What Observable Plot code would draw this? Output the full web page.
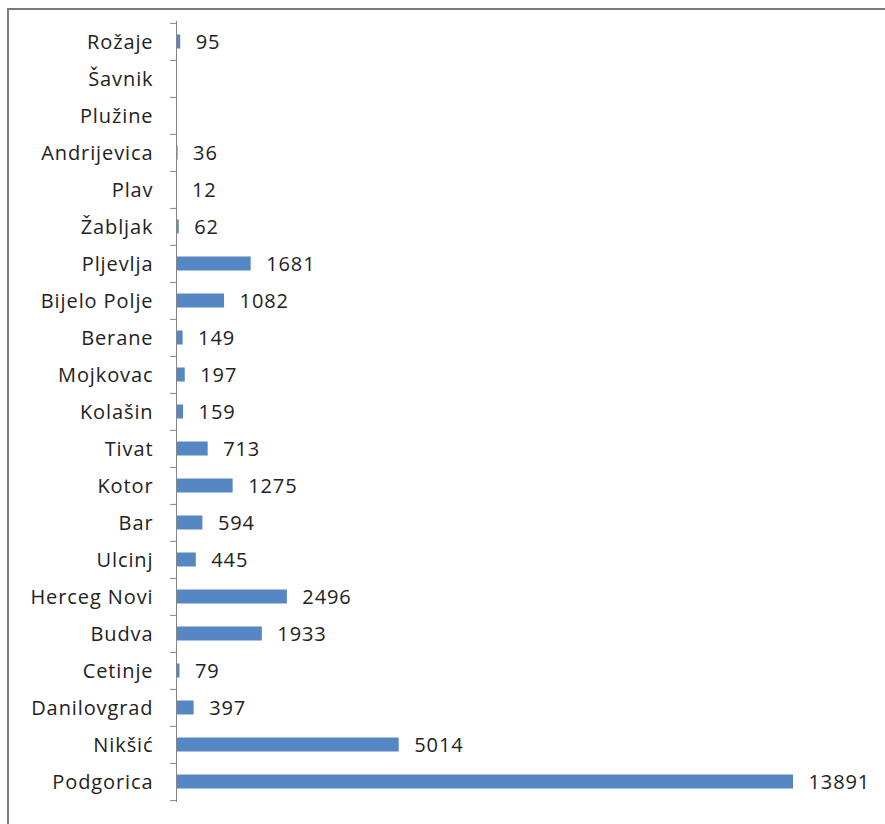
<!DOCTYPE html>
<html>
<head>
<meta charset="utf-8">
<script src="https://cdn.jsdelivr.net/npm/d3@7"></script>
<script src="https://cdn.jsdelivr.net/npm/@observablehq/plot@0.6"></script>
<style>
  body { margin: 0; background: #fff; }
  #wrap { position: relative; width: 885px; height: 824px; overflow: hidden; }
  #frame { position: absolute; left: 7px; top: 8px; width: 900px; height: 900px;
           border-left: 2px solid #7a7a7a; border-top: 2px solid #7a7a7a; box-sizing: border-box; }
  #chart { position: absolute; left: 0; top: 0; }
  #chart svg text { letter-spacing: 0.9px; }
</style>
</head>
<body>
<div id="wrap"><div id="frame"></div><div id="chart"></div></div>
<script>
const municipalities = ["Rožaje","Šavnik","Plužine","Andrijevica","Plav","Žabljak","Pljevlja","Bijelo Polje","Berane","Mojkovac","Kolašin","Tivat","Kotor","Bar","Ulcinj","Herceg Novi","Budva","Cetinje","Danilovgrad","Nikšić","Podgorica"];
const values = [95, null, null, 36, 12, 62, 1681, 1082, 149, 197, 159, 713, 1275, 594, 445, 2496, 1933, 79, 397, 5014, 13891];

const data = municipalities.map((name, i) => ({name, value: values[i]}));
const shown = data.filter(d => d.value != null);

const W = 885, H = 824, mTop = 21, mBottom = 22;
const step = (H - mTop - mBottom) / municipalities.length;
const font = "'Open Sans', sans-serif";

const chart = Plot.plot({
  width: W,
  height: H,
  marginLeft: 176,
  marginRight: 92,
  marginTop: mTop,
  marginBottom: mBottom,
  style: {fontFamily: font, fontSize: "20px", color: "#222", background: "transparent"},
  x: {domain: [0, 13891], axis: null},
  y: {domain: municipalities, padding: 0, axis: null, label: null},
  marks: [
    Plot.barX(shown, {x: "value", y: "name", fill: "#5587c4", insetTop: 11.5, insetBottom: 11.5}),
    Plot.text(shown, {x: "value", y: "name", text: d => String(d.value), dx: 15, dy: 1, textAnchor: "start", fill: "#222", fontSize: 20}),
    Plot.ruleX([0], {stroke: "#868686", strokeWidth: 1}),
    Plot.axisY({tickSize: 0, tickPadding: 23, fontSize: 20, fill: "#222", dy: 1, label: null}),
    Plot.axisY({tickSize: 6, tickFormat: () => "", dy: -step / 2, stroke: "#868686", label: null}),
    Plot.axisY({ticks: [municipalities[municipalities.length - 1]], tickSize: 6, tickFormat: () => "", dy: step / 2, stroke: "#868686", label: null})
  ]
});
document.getElementById("chart").appendChild(chart);
</script>
</body>
</html>
